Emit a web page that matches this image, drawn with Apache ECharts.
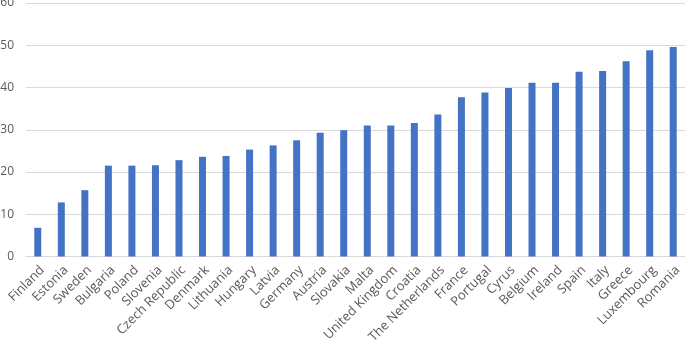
<!DOCTYPE html>
<html>
<head>
<meta charset="utf-8">
<script src="https://cdn.jsdelivr.net/npm/echarts@6/dist/echarts.min.js"></script>
<style>
html, body { margin: 0; padding: 0; background: #fff; }
#chart { width: 685px; height: 341px; }
</style>
</head>
<body>
<div id="chart"></div>
<script>
const countries = ['Finland', 'Estonia', 'Sweden', 'Bulgaria', 'Poland', 'Slovenia', 'Czech Republic',
  'Denmark', 'Lithuania', 'Hungary', 'Latvia', 'Germany', 'Austria', 'Slovakia', 'Malta',
  'United Kingdom', 'Croatia', 'The Netherlands', 'France', 'Portugal', 'Cyrus', 'Belgium',
  'Ireland', 'Spain', 'Italy', 'Greece', 'Luxembourg', 'Romania']
const values = [6.8, 12.8, 15.7, 21.5, 21.5, 21.6, 22.8, 23.6, 23.8, 25.3, 26.3, 27.5, 29.3, 29.9,
  31.0, 31.0, 31.6, 33.6, 37.7, 38.8, 39.9, 41.1, 41.1, 43.7, 43.9, 46.2, 48.8, 49.6]
const yTicks = [0, 10, 20, 30, 40, 50, 60]

const chart = echarts.init(document.getElementById('chart'))
const labelFont = '"Open Sans", "Noto Sans", sans-serif'

const option = {
  animation: false,
  backgroundColor: '#ffffff',
  grid: { left: 26, right: 0, top: 3, bottom: 84.5, containLabel: false, outerBoundsMode: 'none' },
  xAxis: {
    type: 'category',
    data: countries,
    axisLine: { lineStyle: { color: '#d9d9d9', width: 1 } },
    axisTick: { show: false },
    axisLabel: {
      interval: 0,
      rotate: 45,
      margin: 7,
      verticalAlign: 'top',
      color: '#595959',
      fontSize: 13,
      fontFamily: labelFont
    }
  },
  yAxis: {
    type: 'value',
    min: yTicks[0],
    max: yTicks[yTicks.length - 1],
    interval: 10,
    axisLine: { show: false },
    axisTick: { show: false },
    splitLine: { lineStyle: { color: '#d9d9d9', width: 1 } },
    axisLabel: {
      margin: 12,
      color: '#595959',
      fontSize: 12,
      fontFamily: labelFont
    }
  },
  series: [{
    type: 'bar',
    data: values,
    barWidth: 7,
    itemStyle: { color: '#4472c4' }
  }]
}
chart.setOption(option)
</script>
</body>
</html>
